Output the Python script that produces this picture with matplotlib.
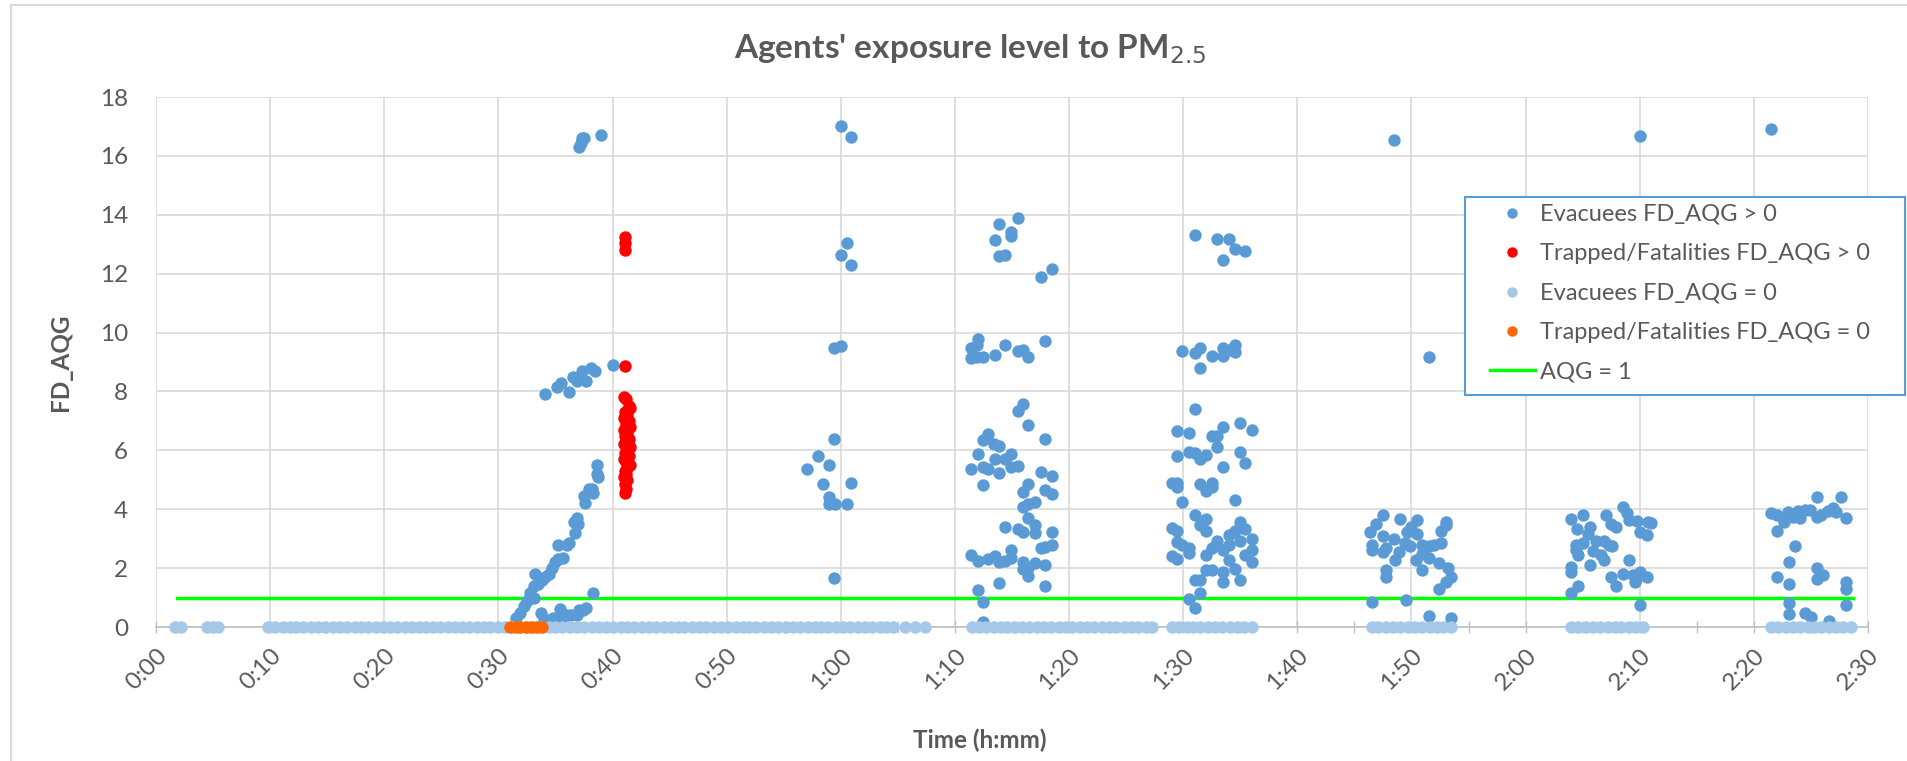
import matplotlib.pyplot as plt
from matplotlib.lines import Line2D
from matplotlib.patches import Rectangle

plt.rcParams['font.family'] = ['Lato', 'DejaVu Sans']

GREY = '#595959'
BLUE = '#5B9BD5'
RED = '#FF0000'
LIGHT = '#A5C8E8'
ORANGE = '#FF6600'
GREEN = '#00FF00'

# Evacuees FD_AQG > 0  (time in minutes, FD_AQG)
evac_x = [
    # 0:30 - 0:40
    37.3, 37.1, 37.5, 38.95, 37.2,
    34.1, 35.1, 35.5, 36.2, 36.5, 36.85, 37.3, 37.7, 38.1, 38.5, 40.05, 37.2,
    31.5, 31.9, 32.2, 32.5, 32.8, 33.1, 33.2, 33.5, 33.8, 34.1, 34.4, 34.7, 35.0, 35.2,
    35.7, 35.2, 36.0, 36.2, 36.7, 36.6, 36.9, 37.0, 37.6, 37.5, 37.9, 38.2, 38.3, 38.6,
    38.6, 38.7,
    33.7, 34.0, 34.4, 34.8, 35.4, 35.6, 36.0, 36.4, 36.85, 37.1, 37.4, 37.7, 38.3, 33.1,
    # 1:00
    60.0, 60.9, 60.5, 60.0, 60.9, 59.4, 60.06, 59.4, 58.0, 57.0, 59.0, 58.45, 60.9,
    59.0, 59.0, 59.5, 60.5, 59.4,
    # 1:10 - 1:20
    75.5, 73.9, 74.9, 74.9, 73.5, 73.9, 74.4, 77.5, 78.5,
    72.0, 71.4, 71.9, 71.4, 71.9, 72.5, 73.5, 74.4, 75.5, 76.0, 76.4, 77.9,
    76.0, 75.5, 76.4, 77.9, 72.9, 72.5, 73.4, 73.9, 72.0, 74.9, 74.4, 73.5, 72.5, 72.9,
    71.4, 75.5, 74.9, 73.9, 77.5, 78.5, 72.5, 76.4, 76.0, 77.9, 78.5, 77.0, 76.4, 76.0,
    76.4, 74.4, 75.5, 76.0, 77.0, 77.0, 78.5, 77.5, 77.9, 78.5, 71.4, 72.0, 72.9, 73.5,
    73.9, 74.4, 74.9, 74.9, 76.0, 76.4, 76.0, 77.0, 77.9, 76.4, 73.9, 77.9, 72.0, 72.5,
    72.5,
    # 1:30 - 1:36
    91.0, 93.0, 94.0, 93.45, 94.5, 95.4,
    89.9, 91.0, 91.5, 92.5, 93.45, 93.45, 94.5, 94.5, 91.5, 94.0,
    91.0, 89.5, 90.5, 92.5, 93.0, 93.45, 95.0, 96.0, 89.5, 90.5, 91.0, 91.5, 92.0, 93.0,
    95.0, 95.4, 93.45,
    89.0, 89.5, 89.5, 91.5, 92.0, 92.5, 92.5, 94.5, 89.9,
    91.0, 92.0, 91.5, 92.0, 89.0, 89.5, 95.0, 94.5, 95.4, 94.0, 96.0, 89.5, 89.9, 90.5,
    90.5, 93.0, 92.5, 93.45, 94.0, 95.0, 92.0, 95.4, 96.0, 96.0, 89.0, 89.5, 94.0, 92.0,
    92.5, 93.45, 94.5, 91.0, 91.5, 93.45, 95.0, 91.5, 90.5, 91.0,
    # 1:47 - 1:54
    108.5, 111.5,
    107.5, 106.9, 106.4, 109.0, 110.0, 110.5, 109.6, 110.5, 107.5, 108.5, 109.4, 109.9,
    110.9, 111.5, 112.0, 112.6, 112.6, 113.0, 113.0, 106.5, 106.5, 107.8, 107.5, 108.9,
    108.6, 110.9, 110.4, 111.5, 112.4, 113.2, 107.8, 107.8, 110.9, 113.5, 113.0, 112.4,
    106.5, 109.5, 111.5, 113.5,
    # 2:04 - 2:11
    130.0,
    124.0, 125.0, 124.5, 125.6, 127.05, 127.5, 127.9, 128.5, 128.9, 129.1, 129.8, 130.0,
    130.7, 125.5, 124.4, 125.0, 124.4, 126.2, 126.9, 127.3, 127.6, 125.9, 126.6, 124.6,
    126.9, 129.1, 125.6, 124.0, 124.0, 128.5, 129.4, 129.7, 130.0, 127.5, 127.9, 129.6,
    124.6, 124.0, 130.0, 131.0, 130.6, 130.6,
    # 2:22 - 2:28
    141.5,
    141.5, 142.0, 142.6, 143.0, 143.4, 144.0, 144.45, 144.9, 145.5, 145.5, 145.9, 146.5,
    146.9, 147.2, 147.6, 148.1, 143.9, 142.0, 143.6, 143.1, 142.0, 143.1, 145.5, 145.5,
    146.1, 148.1, 148.1, 148.1, 143.1, 143.1, 144.5, 145.0, 146.6,
]
evac_y = [
    16.6, 16.3, 16.6, 16.7, 16.45,
    7.92, 8.15, 8.3, 7.97, 8.5, 8.35, 8.7, 8.35, 8.8, 8.7, 8.9, 8.5,
    0.3, 0.47, 0.7, 0.88, 1.17, 1.4, 1.8, 1.46, 1.58, 1.7, 1.8, 2.0, 2.2, 2.3,
    2.33, 2.8, 2.8, 2.85, 3.2, 3.56, 3.7, 3.5, 4.2, 4.44, 4.67, 4.67, 4.55, 5.2,
    5.5, 5.08,
    0.49, 0.23, 0.23, 0.3, 0.6, 0.35, 0.41, 0.41, 0.41, 0.58, 0.58, 0.64, 1.14, 1.0,
    17.0, 16.65, 13.03, 12.64, 12.3, 9.49, 9.56, 6.37, 5.8, 5.36, 5.51, 4.85, 4.88,
    4.42, 4.18, 4.18, 4.18, 1.66,
    13.88, 13.7, 13.4, 13.28, 13.15, 12.6, 12.65, 11.88, 12.17,
    9.79, 9.49, 9.58, 9.14, 9.16, 9.16, 9.23, 9.57, 9.37, 9.4, 9.16, 9.72,
    7.57, 7.34, 6.87, 6.4, 6.54, 6.34, 6.23, 6.16, 5.88, 5.88, 5.72, 5.69, 5.43, 5.35,
    5.35, 5.47, 5.43, 5.22, 5.26, 5.14, 4.81, 4.85, 4.58, 4.64, 4.52, 4.23, 4.18, 4.09,
    3.71, 3.39, 3.33, 3.21, 3.45, 3.18, 3.21, 2.69, 2.71, 2.8, 2.43, 2.24, 2.31, 2.4,
    2.22, 2.25, 2.6, 2.33, 2.22, 1.99, 1.96, 2.16, 2.1, 1.73, 1.48, 1.38, 1.26, 0.85,
    0.18,
    13.3, 13.18, 13.18, 12.46, 12.83, 12.76,
    9.37, 9.31, 9.49, 9.19, 9.46, 9.19, 9.58, 9.35, 8.79, 9.42,
    7.4, 6.66, 6.6, 6.48, 6.48, 6.8, 6.93, 6.69, 5.82, 5.96, 5.9, 5.72, 5.84, 6.1,
    5.93, 5.58, 5.43,
    4.88, 4.88, 4.77, 4.87, 4.61, 4.9, 4.75, 4.32, 4.23,
    3.82, 3.68, 3.45, 3.27, 3.35, 3.27, 3.56, 3.27, 3.33, 3.13, 3.0, 2.89, 2.8, 2.69,
    2.51, 2.92, 2.69, 2.63, 2.8, 2.92, 2.45, 2.45, 2.6, 2.22, 2.4, 2.31, 2.28, 1.93,
    1.93, 1.87, 1.96, 1.6, 1.58, 1.52, 1.6, 1.14, 0.96, 0.64,
    16.55, 9.16,
    3.8, 3.5, 3.21, 3.68, 3.39, 3.62, 3.21, 3.15, 3.1, 2.98, 2.86, 2.75,
    2.8, 2.75, 2.8, 2.86, 3.27, 3.45, 3.56, 2.8, 2.63, 2.69, 2.55, 2.55,
    2.28, 2.48, 2.28, 2.34, 2.16, 1.99, 1.93, 1.7, 1.95, 1.7, 1.52, 1.29,
    0.85, 0.91, 0.39, 0.32,
    16.67,
    3.68, 3.8, 3.33, 3.39, 3.8, 3.5, 3.39, 4.09, 3.86, 3.62, 3.6, 3.21,
    3.56, 3.15, 2.8, 2.86, 2.63, 2.92, 2.92, 2.8, 2.75, 2.57, 2.45, 2.45,
    2.28, 2.28, 2.1, 2.04, 1.87, 1.81, 1.75, 1.64, 1.87, 1.7, 1.4, 1.52,
    1.4, 1.17, 0.76, 3.53, 3.11, 1.7,
    16.9,
    3.86, 3.8, 3.56, 3.91, 3.74, 3.71, 3.97, 3.99, 3.74, 4.41, 3.8, 3.95,
    4.03, 3.91, 4.41, 3.71, 3.95, 3.25, 2.75, 2.22, 1.7, 1.46, 1.99, 1.64,
    1.78, 1.54, 1.29, 0.74, 0.8, 0.44, 0.47, 0.33, 0.21,
]

# Trapped/Fatalities FD_AQG > 0
trap_x = [41.1, 41.1, 41.1, 41.1,
          41.0, 41.2, 41.4, 41.5, 41.1, 41.3, 41.0, 41.4, 41.2, 41.5, 41.0, 41.3,
          41.1, 41.4, 41.2, 41.0, 41.5, 41.3, 41.1, 41.4, 41.0, 41.2, 41.5, 41.3,
          41.1, 41.2, 41.0, 41.3, 41.1, 41.2, 41.1]
trap_y = [13.25, 13.05, 12.8, 8.85,
          7.8, 7.75, 7.5, 7.45, 7.3, 7.2, 7.1, 7.0, 6.9, 6.8, 6.7, 6.6,
          6.5, 6.4, 6.3, 6.2, 6.1, 6.0, 5.9, 5.8, 5.7, 5.6, 5.5, 5.4,
          5.3, 5.2, 5.1, 5.0, 4.85, 4.7, 4.55]

# Evacuees FD_AQG = 0
evac0_x = [
    1.7, 2.2, 4.5, 5.0, 5.4,
    9.8, 10.4, 11.1, 11.7, 12.3, 12.9, 13.6, 14.2, 14.8, 15.5, 16.1, 16.7, 17.4, 18.0,
    18.6, 19.3, 19.9, 20.5, 21.1, 21.8, 22.4, 23.0, 23.7, 24.3, 24.9, 25.6, 26.2, 26.8,
    27.4, 28.1, 28.7, 29.3, 30.0, 30.6, 31.2, 31.9, 32.5, 33.1, 33.7, 34.4, 35.0, 35.6,
    36.3, 36.9, 37.5, 38.2, 38.8, 39.4, 40.0, 40.7, 41.3, 41.9, 42.6, 43.2, 43.8, 44.5,
    45.1, 45.7, 46.3, 47.0, 47.6, 48.2, 48.9, 49.5, 50.1, 50.8, 51.4, 52.0, 52.6, 53.3,
    53.9, 54.5, 55.2, 55.8, 56.4, 57.1, 57.7, 58.3, 58.9, 59.6, 60.2, 60.8, 61.5, 62.1,
    62.7, 63.4, 64.0, 64.6, 65.6, 66.5, 67.4,
    71.5, 72.1, 72.7, 73.4, 74.0, 74.6, 75.3, 75.9, 76.5, 77.2, 77.8, 78.4, 79.1, 79.7,
    80.3, 81.0, 81.6, 82.2, 82.9, 83.5, 84.1, 84.8, 85.4, 86.0, 86.7, 87.3,
    89.0, 89.6, 90.3, 90.9, 91.5, 92.2, 92.8, 93.4, 94.1, 94.7, 95.3, 96.0,
    106.5, 107.1, 107.8, 108.4, 109.0, 109.7, 110.3, 110.9, 111.6, 112.2, 112.8, 113.5,
    124.0, 124.6, 125.3, 125.9, 126.5, 127.2, 127.8, 128.4, 129.1, 129.7, 130.3,
    141.5, 142.1, 142.8, 143.4, 144.0, 144.7, 145.3, 145.9, 146.6, 147.2, 147.8, 148.5,
]
evac0_y = [0] * len(evac0_x)

# Trapped/Fatalities FD_AQG = 0
trap0_x = [31.0, 31.5, 31.9, 32.4, 32.9, 33.4, 33.8]
trap0_y = [0] * len(trap0_x)

# AQG = 1 guideline
aqg_x = [1.8, 148.7]
aqg_y = [1, 1]

x_ticks = list(range(0, 151, 10))
x_labels = ['0:00', '0:10', '0:20', '0:30', '0:40', '0:50', '1:00', '1:10',
            '1:20', '1:30', '1:40', '1:50', '2:00', '2:10', '2:20', '2:30']
y_ticks = list(range(0, 19, 2))

W, H = 1908, 761
fig = plt.figure(figsize=(W / 100, H / 100), dpi=100)
ax = fig.add_axes([156 / W, 1 - 627 / H, (1868 - 156) / W, (627 - 97) / H])

ms = 80
ax.plot(aqg_x, aqg_y, color=GREEN, lw=2.5, zorder=2, label='AQG = 1')
ax.scatter(evac_x, evac_y, s=ms, color=BLUE, linewidths=0, zorder=3,
           clip_on=False, label='Evacuees FD_AQG > 0')
ax.scatter(trap_x, trap_y, s=ms, color=RED, linewidths=0, zorder=4,
           clip_on=False, label='Trapped/Fatalities FD_AQG > 0')
ax.scatter(evac0_x, evac0_y, s=ms, color=LIGHT, linewidths=0, zorder=5,
           clip_on=False, label='Evacuees FD_AQG = 0')
ax.scatter(trap0_x, trap0_y, s=ms, color=ORANGE, linewidths=0, zorder=6,
           clip_on=False, label='Trapped/Fatalities FD_AQG = 0')

ax.set_xlim(0, 150)
ax.set_ylim(0, 18)
ax.set_xticks(x_ticks)
ax.set_xticklabels(x_labels, rotation=45, ha='right', va='top',
                   rotation_mode='anchor', color=GREY, fontsize=17.5)
ax.set_xticks(list(range(5, 150, 10)), minor=True)
ax.set_yticks(y_ticks)
ax.set_yticklabels([str(v) for v in y_ticks], color=GREY, fontsize=17.5)
ax.tick_params(axis='y', length=0, pad=20)
ax.tick_params(axis='x', which='both', direction='inout', length=9,
               color='#BFBFBF', width=1, pad=8)
ax.grid(True, color='#D9D9D9', lw=1.2, zorder=0)
ax.set_axisbelow(True)
for side in ['top', 'right', 'left']:
    ax.spines[side].set_visible(False)
ax.spines['bottom'].set_color('#BFBFBF')
ax.spines['bottom'].set_linewidth(1.2)

fig.text(970 / W, 1 - 49 / H, "Agents' exposure level to PM$_{2.5}$",
         ha='center', va='center', fontsize=24, fontweight='bold', color=GREY)
fig.text(61 / W, 1 - 362 / H, 'FD_AQG', rotation=90, ha='center', va='center',
         fontsize=17.5, fontweight='bold', color=GREY)
fig.text(980 / W, 1 - 740 / H, 'Time (h:mm)', ha='center', va='center',
         fontsize=17.5, fontweight='bold', color=GREY)

# legend box (drawn separately so the padding matches)
fig.add_artist(Rectangle((1465 / W, 1 - 395 / H), (1905 - 1465) / W, (395 - 197) / H,
                         transform=fig.transFigure, facecolor='white',
                         edgecolor=BLUE, lw=1.5, zorder=4))
handles = [
    Line2D([], [], ls='', marker='o', ms=6.5, color=BLUE),
    Line2D([], [], ls='', marker='o', ms=6.5, color=RED),
    Line2D([], [], ls='', marker='o', ms=6.5, color=LIGHT),
    Line2D([], [], ls='', marker='o', ms=6.5, color=ORANGE),
    Line2D([], [], color=GREEN, lw=2.5),
]
labels = ['Evacuees FD_AQG > 0', 'Trapped/Fatalities FD_AQG > 0',
          'Evacuees FD_AQG = 0', 'Trapped/Fatalities FD_AQG = 0', 'AQG = 1']
leg = fig.legend(handles, labels, loc='upper left',
                 bbox_to_anchor=(1490 / W, 1 - 204 / H), fontsize=17,
                 frameon=False, labelspacing=0.78, handlelength=1.9,
                 handletextpad=0.2, borderpad=0, borderaxespad=0)
leg.set_zorder(5)
for t in leg.get_texts():
    t.set_color(GREY)

# chart area border
fig.add_artist(Line2D([11 / W, 11 / W], [0, 1 - 5 / H], color='#D9D9D9', lw=1.5))
fig.add_artist(Line2D([11 / W, 1], [1 - 5 / H, 1 - 5 / H], color='#D9D9D9', lw=1.5))

fig.savefig('out.png', dpi=100)
